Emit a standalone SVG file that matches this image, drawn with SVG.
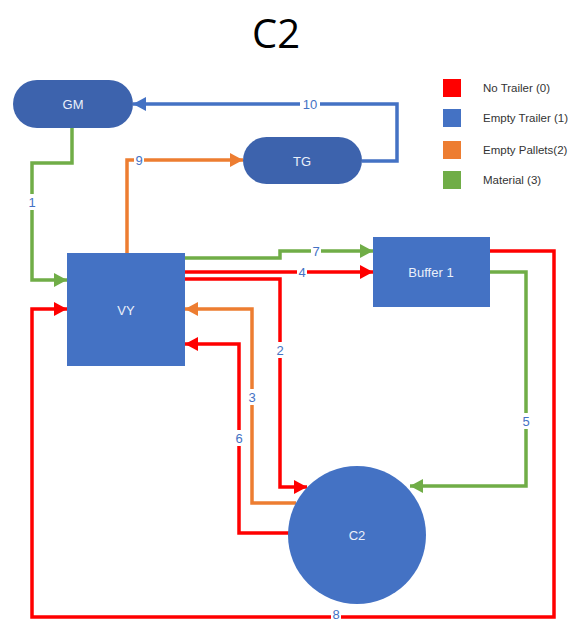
<svg xmlns="http://www.w3.org/2000/svg" width="571" height="622" viewBox="0 0 571 622">
<style>
.ln{fill:none;stroke-width:3.5;stroke-linejoin:miter}
.r{stroke:#FF0000}.b{stroke:#4472C4}.o{stroke:#ED7D31}.g{stroke:#70AD47}
.nt{font-family:"Liberation Sans",Arial,sans-serif;font-size:13px;fill:#EAF0FA;text-anchor:middle;dominant-baseline:central}
.lb{font-family:"Liberation Sans",Arial,sans-serif;font-size:13px;fill:#4472C4;text-anchor:middle;dominant-baseline:central}
.lbg{fill:#fff}
.lg{font-family:"Liberation Sans",Arial,sans-serif;font-size:11.5px;fill:#333;dominant-baseline:central}
</style>
<defs>
<marker id="ar" markerUnits="userSpaceOnUse" markerWidth="14" markerHeight="14" refX="13" refY="7" orient="auto"><path d="M0,0 L13,7 L0,14 z" fill="#FF0000"/></marker>
<marker id="ab" markerUnits="userSpaceOnUse" markerWidth="14" markerHeight="14" refX="13" refY="7" orient="auto"><path d="M0,0 L13,7 L0,14 z" fill="#4472C4"/></marker>
<marker id="ao" markerUnits="userSpaceOnUse" markerWidth="14" markerHeight="14" refX="13" refY="7" orient="auto"><path d="M0,0 L13,7 L0,14 z" fill="#ED7D31"/></marker>
<marker id="ag" markerUnits="userSpaceOnUse" markerWidth="14" markerHeight="14" refX="13" refY="7" orient="auto"><path d="M0,0 L13,7 L0,14 z" fill="#70AD47"/></marker>
</defs>
<rect width="571" height="622" fill="#fff"/>
<text x="276" y="32" font-family="'Open Sans','Liberation Sans',sans-serif" font-size="40" fill="#000" text-anchor="middle" dominant-baseline="central">C2</text>

<g id="connectors">
<path class="ln g" d="M72,128 V163 H32 V280 H67" marker-end="url(#ag)"/>
<path class="ln b" d="M362,161 H397 V104 H133" marker-end="url(#ab)"/>
<path class="ln o" d="M127,253 V160 H243" marker-end="url(#ao)"/>
<path class="ln g" d="M185,258 H280 V251 H373" marker-end="url(#ag)"/>
<path class="ln r" d="M185,272 H373" marker-end="url(#ar)"/>
<path class="ln r" d="M185,279 H280 V487 H307" marker-end="url(#ar)"/>
<path class="ln o" d="M296,503 H252 V309 H185" marker-end="url(#ao)"/>
<path class="ln r" d="M290,533 H239 V344 H185" marker-end="url(#ar)"/>
<path class="ln g" d="M490,272 H526 V486 H410" marker-end="url(#ag)"/>
<path class="ln r" d="M490,251 H554 V617 H32 V309 H67" marker-end="url(#ar)"/>
<g id="labels">
<rect class="lbg" x="27" y="194" width="10" height="16"/><text class="lb" x="32" y="202">1</text>
<rect class="lbg" x="300" y="97" width="20" height="14"/><text class="lb" x="310" y="104">10</text>
<rect class="lbg" x="134" y="153" width="10" height="14"/><text class="lb" x="139" y="160">9</text>
<rect class="lbg" x="311" y="244" width="10" height="14"/><text class="lb" x="316" y="251">7</text>
<rect class="lbg" x="297" y="265" width="10" height="14"/><text class="lb" x="302" y="272">4</text>
<rect class="lbg" x="275" y="342" width="10" height="16"/><text class="lb" x="280" y="350">2</text>
<rect class="lbg" x="247" y="389" width="10" height="16"/><text class="lb" x="252" y="397">3</text>
<rect class="lbg" x="234" y="430" width="10" height="16"/><text class="lb" x="239" y="438">6</text>
<rect class="lbg" x="521" y="413" width="10" height="16"/><text class="lb" x="526" y="421">5</text>
<rect class="lbg" x="331" y="608" width="10" height="14"/><text class="lb" x="336" y="614" font-size="12">8</text>
</g>
</g>

<g id="GM"><rect x="13" y="80" width="120" height="48" rx="24" fill="#3D63AD"/><text class="nt" x="73" y="104">GM</text></g>
<g id="TG"><rect x="243" y="137" width="119" height="47" rx="23.5" fill="#3D63AD"/><text class="nt" x="302" y="161">TG</text></g>
<g id="VY"><rect x="67" y="253" width="118" height="113" fill="#4472C4"/><text class="nt" x="126" y="310">VY</text></g>
<g id="Buffer1"><rect x="373" y="237" width="117" height="70" fill="#4472C4"/><text class="nt" x="431" y="272">Buffer 1</text></g>
<g id="C2"><circle cx="357" cy="535" r="69" fill="#4472C4"/><text class="nt" x="357" y="535">C2</text></g>

<g id="legend">
<rect x="443" y="79" width="18" height="18" fill="#FF0000"/><text class="lg" x="483" y="88">No Trailer (0)</text>
<rect x="443" y="109" width="18" height="18" fill="#4472C4"/><text class="lg" x="483" y="118">Empty Trailer (1)</text>
<rect x="443" y="141" width="18" height="18" fill="#ED7D31"/><text class="lg" x="483" y="150">Empty Pallets(2)</text>
<rect x="443" y="171" width="18" height="18" fill="#70AD47"/><text class="lg" x="483" y="180">Material (3)</text>
</g>
</svg>
